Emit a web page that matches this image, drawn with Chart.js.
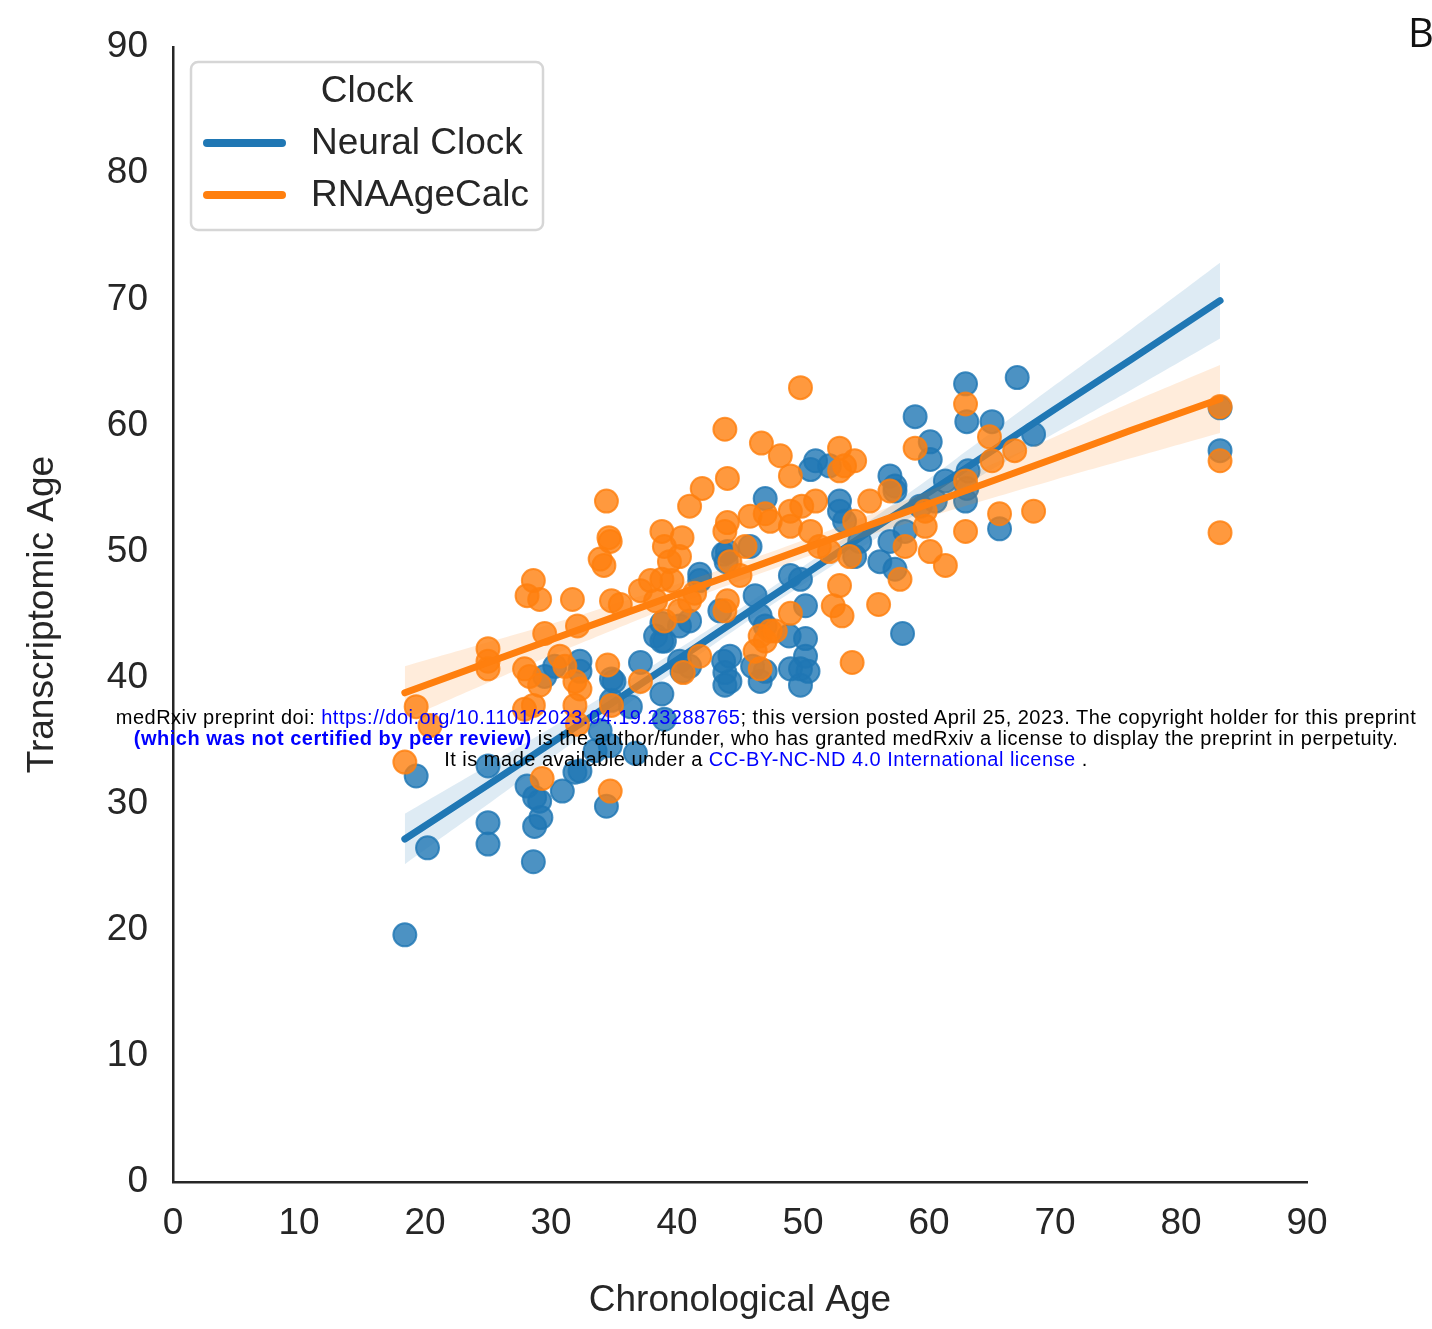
<!DOCTYPE html>
<html>
<head>
<meta charset="utf-8">
<title>Chronological vs Transcriptomic Age</title>
<script src="https://cdn.jsdelivr.net/npm/chart.js@4/dist/chart.umd.min.js"></script>
<style>
  html, body { margin: 0; padding: 0; background: #ffffff; }
  #wrap { position: relative; width: 1432px; height: 1329px; overflow: hidden; }
  #chart { position: absolute; left: 0; top: 0; }
  .panel { position: absolute; left: 1408px; top: 4px; font: 40px "Open Sans", "DejaVu Sans", sans-serif; color: #111; }
  .notice { position: absolute; left: 100px; top: 707px; width: 1332px; text-align: center;
            font: 20px "Liberation Sans", Arial, sans-serif; letter-spacing: 0.5px; line-height: 21px;
            color: #000; white-space: nowrap; }
  .notice .link { color: #0000ff; }
  .notice b { color: #0000ff; }
</style>
</head>
<body>
<div id="wrap">
  <canvas id="chart" width="1432" height="1329"></canvas>
  <div class="panel">B</div>
  <div class="notice">
    medRxiv preprint doi: <span class="link">https://doi.org/10.1101/2023.04.19.23288765</span>; this version posted April 25, 2023. The copyright holder for this preprint<br>
    <b>(which was not certified by peer review)</b> is the author/funder, who has granted medRxiv a license to display the preprint in perpetuity.<br>
    It is made available under a <span class="link">CC-BY-NC-ND 4.0 International license</span> .
  </div>
</div>
<script>
// Neural Clock: chronological age and predicted transcriptomic age per sample
const neuralChrono = [18.4, 19.3, 20.2, 25.0, 25.0, 25.0, 28.6, 28.7, 29.2, 28.1, 28.7, 29.1, 30.9, 31.9, 32.3,
  34.4, 34.7, 33.5, 33.9, 36.7, 36.3, 34.8, 34.8, 35.0, 32.3, 32.3, 30.3, 29.5, 37.1, 38.8, 39.0, 38.3, 39.0,
  38.8, 40.2, 41.0, 41.8, 40.2, 40.4, 41.0, 43.8, 43.8, 44.2, 43.4, 43.9, 44.0, 45.8, 46.2, 46.6, 47.0, 46.0,
  46.6, 47.0, 49.8, 49.8, 50.2, 49.0, 50.4, 50.2, 50.2, 49.0, 49.8, 50.6, 51.0, 52.1, 52.9, 52.9, 53.3, 54.5,
  54.1, 56.1, 56.9, 57.3, 56.9, 57.3, 57.9, 57.3, 58.1, 58.9, 60.1, 60.1, 61.3, 60.5, 59.3, 62.9, 63.0, 62.9,
  63.0, 63.1, 65.0, 65.6, 67.0, 68.3, 83.1, 83.1, 47.0, 43.7, 41.8, 48.9, 38.8, 43.7, 44.2];
const neuralAge = [19.6, 32.2, 26.5, 28.5, 26.8, 33.0, 25.4, 28.2, 28.9, 31.4, 30.5, 30.2, 31.0, 32.5, 32.6,
  29.8, 34.6, 34.2, 35.8, 34.0, 37.7, 38.2, 39.9, 39.7, 41.3, 40.5, 40.9, 40.1, 41.2, 38.7, 36.7, 43.3, 42.9,
  44.3, 44.1, 44.5, 47.7, 41.3, 40.5, 40.9, 39.4, 40.4, 41.7, 45.3, 49.2, 50.0, 50.4, 46.5, 44.9, 44.1, 40.9,
  39.7, 40.5, 39.4, 40.7, 41.7, 40.7, 40.5, 43.1, 45.7, 48.1, 47.8, 56.5, 57.2, 56.8, 54.0, 53.2, 52.4, 50.8,
  49.6, 49.2, 56.0, 55.2, 50.8, 48.6, 43.5, 54.8, 51.6, 60.7, 58.7, 57.3, 55.6, 54.0, 53.6, 63.3, 60.3, 54.0,
  55.0, 56.4, 60.3, 51.8, 63.8, 59.3, 61.4, 58.0, 54.2, 49.8, 48.2, 43.3, 42.9, 41.3, 39.7];

// RNAAgeCalc: chronological age and predicted transcriptomic age per sample
const rnaChrono = [18.4, 19.3, 20.4, 25.0, 25.0, 25.0, 28.1, 28.6, 29.1, 27.9, 28.3, 28.6, 29.1, 27.9, 29.5,
  30.7, 31.1, 31.7, 32.1, 31.9, 32.3, 31.9, 32.1, 29.3, 34.2, 33.9, 34.6, 34.4, 34.7, 34.8, 35.5, 34.5, 34.7,
  37.1, 37.1, 34.8, 37.9, 38.3, 38.8, 39.0, 38.8, 39.4, 39.6, 39.0, 40.2, 40.4, 41.0, 42.0, 40.2, 41.0, 41.4,
  40.5, 41.8, 43.8, 44.0, 44.0, 43.8, 44.2, 44.0, 43.8, 45.0, 45.4, 45.8, 46.7, 47.0, 47.4, 46.6, 47.4, 47.0,
  46.2, 46.6, 48.2, 49.0, 49.0, 49.0, 49.0, 47.8, 49.8, 49.9, 51.0, 50.6, 51.3, 52.1, 52.4, 52.9, 52.9, 54.1,
  52.9, 53.3, 53.1, 53.9, 53.7, 54.1, 55.3, 56.0, 56.9, 57.7, 58.1, 58.9, 59.7, 59.7, 60.1, 61.3, 62.9, 62.9,
  62.9, 64.8, 65.0, 65.6, 68.3, 66.8, 83.1, 83.1, 83.1];
const rnaAge = [33.3, 37.7, 36.2, 42.3, 41.3, 40.7, 46.5, 47.7, 46.2, 40.7, 40.1, 37.8, 39.4, 37.5, 43.5,
  41.7, 40.9, 46.2, 44.1, 39.7, 39.1, 37.8, 36.3, 32.0, 48.9, 49.4, 51.1, 54.0, 50.8, 46.1, 45.8, 41.0, 31.0,
  46.9, 39.7, 37.8, 47.7, 46.1, 51.6, 50.4, 47.8, 49.2, 47.7, 44.5, 49.6, 51.1, 53.6, 55.0, 45.3, 46.1, 46.7,
  40.4, 41.7, 59.7, 55.8, 52.3, 51.6, 49.2, 46.1, 45.3, 48.1, 50.4, 52.8, 58.6, 53.0, 52.4, 43.3, 43.7, 42.9,
  42.1, 40.7, 57.6, 56.0, 53.2, 52.0, 45.1, 43.7, 63.0, 53.6, 54.0, 51.6, 50.4, 50.0, 45.7, 47.3, 56.4, 57.2,
  58.2, 56.8, 44.9, 41.2, 49.6, 52.4, 54.0, 45.8, 54.8, 47.8, 50.4, 58.2, 53.2, 52.0, 50.0, 48.9, 61.7, 51.6,
  55.6, 59.1, 57.2, 53.0, 53.2, 58.0, 61.5, 57.2, 51.5];

// Regression fits with 95% confidence band half-widths, sampled along the age range
const fitChrono = [18.4, 25, 30, 35, 40, 47, 55, 62, 70, 76, 83.1];
const neuralFit = [27.2, 31.5, 34.8, 38.1, 41.4, 46.1, 51.4, 56.0, 61.3, 65.2, 69.9];
const neuralCI  = [2.0, 1.55, 1.2, 0.95, 0.8, 0.7, 0.85, 1.25, 1.9, 2.4, 3.0];
const rnaFit    = [38.8, 41.2, 43.0, 44.8, 46.6, 49.1, 52.0, 54.5, 57.4, 59.6, 62.1];
const rnaCI     = [2.1, 1.6, 1.25, 1.0, 0.8, 0.7, 0.8, 1.15, 1.7, 2.2, 2.7];

const axisTicks = [0, 10, 20, 30, 40, 50, 60, 70, 80, 90];
const seriesNames = ['Neural Clock', 'RNAAgeCalc'];
const legendTitle = 'Clock';

const BLUE = '31,119,180';
const ORANGE = '255,127,14';
const FONT = '"Liberation Sans", Arial, Helvetica, sans-serif';
const INK = '#262626';

const pts = (xs, ys) => xs.map((x, i) => ({ x, y: ys[i] }));
const shifted = (xs, ys, d, sign) => xs.map((x, i) => ({ x, y: ys[i] + sign * d[i] }));

function scatterSet(label, rgb, xs, ys, order) {
  return {
    label, data: pts(xs, ys), order,
    showLine: false, pointRadius: 11.5, pointHoverRadius: 11.5, pointBorderWidth: 2,
    backgroundColor: `rgba(${rgb},0.8)`, borderColor: `rgba(${rgb},0.8)`
  };
}
function bandSet(data, rgb, order, fillTarget) {
  return {
    label: '', data, order, showLine: true, pointRadius: 0, borderWidth: 0,
    borderColor: 'rgba(0,0,0,0)', tension: 0.4,
    fill: fillTarget === null ? false : { target: fillTarget },
    backgroundColor: `rgba(${rgb},0.15)`
  };
}
function fitSet(label, rgb, ys, order) {
  return {
    label, data: pts(fitChrono, ys), order, showLine: true, pointRadius: 0,
    borderWidth: 7, borderColor: `rgb(${rgb})`, borderCapStyle: 'round', fill: false
  };
}

const datasets = [
  scatterSet(seriesNames[0], BLUE, neuralChrono, neuralAge, 8),                 // 0
  bandSet(shifted(fitChrono, neuralFit, neuralCI, -1), BLUE, 7, null),          // 1
  bandSet(shifted(fitChrono, neuralFit, neuralCI, 1), BLUE, 6, 1),              // 2
  fitSet(seriesNames[0], BLUE, neuralFit, 5),                                   // 3
  scatterSet(seriesNames[1], ORANGE, rnaChrono, rnaAge, 4),                     // 4
  bandSet(shifted(fitChrono, rnaFit, rnaCI, -1), ORANGE, 3, null),              // 5
  bandSet(shifted(fitChrono, rnaFit, rnaCI, 1), ORANGE, 2, 5),                  // 6
  fitSet(seriesNames[1], ORANGE, rnaFit, 1)                                     // 7
];

// Framed legend in the upper-left corner of the plot, seaborn style
const clockLegend = {
  id: 'clockLegend',
  afterDraw(chart) {
    const ctx = chart.ctx;
    const x0 = 191, y0 = 62, w = 352, h = 168, r = 7;
    ctx.save();
    ctx.beginPath();
    ctx.roundRect(x0, y0, w, h, r);
    ctx.fillStyle = 'rgba(255,255,255,0.8)';
    ctx.fill();
    ctx.lineWidth = 2.5;
    ctx.strokeStyle = '#d6d6d6';
    ctx.stroke();

    ctx.fillStyle = INK;
    ctx.font = `37px ${FONT}`;
    ctx.textBaseline = 'middle';
    ctx.textAlign = 'center';
    ctx.fillText(legendTitle, 367, 92);

    const rows = [[BLUE, 143], [ORANGE, 195]];
    rows.forEach(([rgb, y], i) => {
      ctx.beginPath();
      ctx.moveTo(207, y);
      ctx.lineTo(282, y);
      ctx.lineWidth = 8;
      ctx.lineCap = 'round';
      ctx.strokeStyle = `rgb(${rgb})`;
      ctx.stroke();
      ctx.textAlign = 'left';
      ctx.fillStyle = INK;
      ctx.fillText(seriesNames[i], 311, y + 1);
    });
    ctx.restore();
  }
};

const axisCommon = (title) => ({
  type: 'linear', min: 0, max: 90,
  afterBuildTicks: (s) => { s.ticks = axisTicks.map(v => ({ value: v })); },
  grid: { display: false, drawTicks: false },
  border: { display: true, color: INK, width: 2.5 },
  ticks: { color: INK, font: { family: FONT, size: 37 } },
  title: { display: true, text: title, color: INK, font: { family: FONT, size: 37 } }
});

const xAxis = axisCommon('Chronological Age');
xAxis.ticks.padding = 20;
xAxis.title.padding = { top: 0, bottom: 6 };
xAxis.afterFit = (s) => { s.height = 147; };

const yAxis = axisCommon('Transcriptomic Age');
yAxis.ticks.padding = 25;
yAxis.title.padding = { top: 21, bottom: 0 };
yAxis.afterFit = (s) => { s.width = 173; };

new Chart(document.getElementById('chart'), {
  type: 'scatter',
  data: { datasets },
  options: {
    responsive: false,
    animation: false,
    devicePixelRatio: 1,
    layout: { padding: { top: 45, right: 125, left: 0, bottom: 0 } },
    plugins: { legend: { display: false }, tooltip: { enabled: false } },
    scales: { x: xAxis, y: yAxis }
  },
  plugins: [clockLegend]
});
</script>
</body>
</html>
